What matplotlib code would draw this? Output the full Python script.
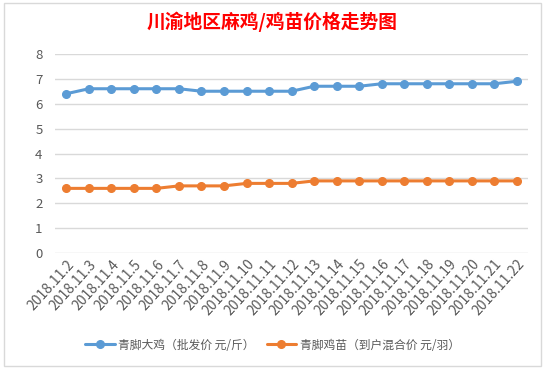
import matplotlib.pyplot as plt
from matplotlib.patches import Rectangle

plt.rcParams['font.family'] = ['Noto Sans CJK SC', 'DejaVu Sans']

# dates (x categories)
dates = ['2018.11.2', '2018.11.3', '2018.11.4', '2018.11.5', '2018.11.6',
         '2018.11.7', '2018.11.8', '2018.11.9', '2018.11.10', '2018.11.11',
         '2018.11.12', '2018.11.13', '2018.11.14', '2018.11.15', '2018.11.16',
         '2018.11.17', '2018.11.18', '2018.11.19', '2018.11.20', '2018.11.21',
         '2018.11.22']

# wholesale price of big chickens (yuan / jin)
big_chicken = [6.4, 6.6, 6.6, 6.6, 6.6, 6.6, 6.5, 6.5, 6.5, 6.5, 6.5,
               6.7, 6.7, 6.7, 6.8, 6.8, 6.8, 6.8, 6.8, 6.8, 6.9]

# chick price (yuan / bird)
chicks = [2.6, 2.6, 2.6, 2.6, 2.6, 2.7, 2.7, 2.7, 2.8, 2.8, 2.8,
          2.9, 2.9, 2.9, 2.9, 2.9, 2.9, 2.9, 2.9, 2.9, 2.9]

series_names = ['青脚大鸡（批发价 元/斤）', '青脚鸡苗（到户混合价 元/羽）']

fig = plt.figure(figsize=(5.45, 3.69), dpi=100)
ax = fig.add_axes([0.101, 0.314, 0.868, 0.54])

x = range(len(dates))
ax.plot(x, big_chicken, color='#5B9BD5', lw=2.2, marker='o', ms=5.5,
        label=series_names[0], solid_capstyle='round')
ax.plot(x, chicks, color='#ED7D31', lw=2.2, marker='o', ms=5.5,
        label=series_names[1], solid_capstyle='round')

ax.set_xlim(-0.5, len(dates) - 0.5)
ax.set_ylim(0, 8)
ax.set_yticks(range(0, 9))
ax.grid(axis='y', color='#D9D9D9', lw=1)
ax.set_axisbelow(True)
for s in ax.spines.values():
    s.set_visible(False)

ax.set_xticks(list(x))
ax.set_xticklabels(dates, rotation=48, ha='right', va='top',
                   rotation_mode='anchor', fontsize=10, color='#595959')
ax.tick_params(axis='y', labelsize=9.5, labelcolor='#595959', length=0, pad=9)
ax.tick_params(axis='x', length=0, pad=3)

fig.text(0.5, 0.94, '川渝地区麻鸡/鸡苗价格走势图', ha='center', va='center',
         fontsize=13.5, fontweight='bold', color='red')

fig.legend(loc='center', bbox_to_anchor=(0.5, 0.065), ncol=2, frameon=False,
           fontsize=8.5, labelcolor='#595959', handlelength=2.5,
           columnspacing=1.0, handletextpad=0.3)

fig.patches.append(Rectangle((0.008, 0.008), 0.984, 0.984, transform=fig.transFigure,
                             fill=False, edgecolor='#D9D9D9', lw=1))

fig.savefig('out.png', dpi=100)
